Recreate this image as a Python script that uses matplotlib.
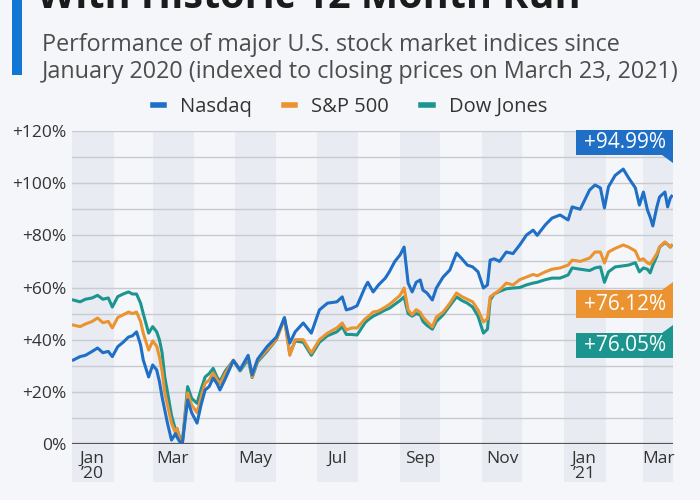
import numpy as np
import matplotlib
matplotlib.use("Agg")
import matplotlib.pyplot as plt
from matplotlib.lines import Line2D
from matplotlib.patches import Rectangle, Polygon

plt.rcParams['font.family'] = ['Open Sans', 'DejaVu Sans']

# days since 2020-01-01
days = [1, 6, 10, 15, 19, 23, 27, 30, 34, 38, 42, 45, 48, 51, 53, 57, 60, 63, 65, 67,
        69, 71, 74, 77, 78, 80, 82, 86, 89, 93, 96, 99, 102, 105, 108, 110, 114, 120, 125, 131,
        134, 138, 145, 152, 158, 162, 166, 172, 178, 184, 190, 197, 201, 204, 208, 212, 218, 220, 224, 228,
        233, 236, 240, 244, 247, 250, 253, 256, 259, 261, 264, 268, 271, 276, 281, 286, 290, 294, 298, 302,
        306, 309, 311, 314, 318, 323, 328, 333, 338, 343, 346, 352, 357, 363, 369, 372, 378, 385, 389, 393,
        396, 399, 404, 410, 414, 419, 422, 425, 428, 430, 432, 435, 437, 441, 443, 445, 446]

nasdaq = [32.2, 33.5, 34.0, 35.5, 36.8, 35.0, 35.5, 33.5, 37.3, 39.0, 41.0, 41.5, 43.0, 38.0, 32.2, 25.7, 30.3, 28.4, 24.0, 18.0,
          13.0, 8.0, 1.5, 4.0, 2.7, 1.0, 0.0, 16.9, 12.0, 8.0, 15.0, 20.7, 22.0, 25.3, 23.0, 20.7, 25.0, 32.0, 28.5, 34.0,
          26.5, 32.5, 37.3, 41.0, 48.3, 38.7, 43.0, 46.4, 42.5, 51.4, 54.0, 54.5, 56.4, 51.4, 52.0, 53.0, 60.2, 62.0, 58.3, 61.0,
          63.6, 66.0, 69.9, 72.5, 75.5, 61.7, 58.3, 62.0, 62.9, 59.0, 57.9, 55.2, 59.8, 64.0, 66.7, 73.2, 71.0, 68.6, 67.9, 66.0,
          59.8, 61.0, 70.5, 71.0, 70.0, 73.6, 73.0, 76.3, 80.1, 82.0, 80.0, 84.0, 86.6, 87.8, 85.9, 90.9, 90.0, 97.4, 99.3, 98.2,
          90.5, 98.6, 103.0, 105.4, 102.0, 98.2, 91.6, 96.6, 89.7, 87.0, 83.6, 90.9, 94.7, 96.6, 90.9, 94.3, 94.99]

sp500 = [45.6, 45.0, 46.0, 47.0, 48.3, 46.5, 47.0, 44.5, 48.5, 49.5, 50.6, 50.0, 50.6, 47.0, 42.5, 36.0, 39.5, 37.5, 33.4, 28.0,
         19.6, 15.0, 8.0, 4.2, 6.0, 2.0, 0.0, 19.6, 15.0, 12.0, 18.0, 23.3, 24.5, 27.2, 24.5, 23.0, 27.0, 32.2, 28.4, 33.4,
         25.7, 32.0, 36.0, 40.0, 48.0, 34.0, 40.0, 40.0, 34.9, 40.0, 42.5, 44.5, 46.4, 43.7, 44.5, 44.5, 48.0, 48.7, 50.6, 51.0,
         52.5, 53.5, 55.2, 57.0, 59.8, 51.4, 49.5, 51.5, 50.5, 48.7, 47.0, 44.9, 48.7, 50.6, 53.9, 57.9, 56.5, 55.5, 54.5, 51.4,
         46.8, 48.0, 56.4, 57.5, 59.0, 61.7, 61.0, 63.0, 64.0, 65.0, 64.5, 66.0, 67.0, 67.5, 68.6, 70.5, 70.0, 71.3, 73.6, 73.6,
         69.4, 73.6, 75.0, 76.3, 75.5, 74.0, 70.5, 71.0, 69.4, 69.0, 70.5, 73.0, 75.5, 77.5, 76.5, 75.5, 76.12]

dow = [55.2, 54.5, 55.5, 56.0, 57.0, 55.5, 56.0, 52.5, 56.5, 57.5, 58.3, 57.5, 57.5, 54.0, 50.0, 42.5, 45.0, 43.0, 40.0, 35.0,
       25.7, 20.0, 11.0, 5.4, 6.0, 2.7, 0.0, 22.0, 17.5, 15.6, 21.0, 25.7, 27.0, 29.0, 25.5, 24.0, 28.0, 32.0, 28.0, 32.5,
       25.5, 31.5, 35.5, 40.0, 48.5, 34.5, 39.5, 39.0, 34.0, 39.0, 41.5, 43.0, 45.0, 42.0, 42.0, 41.8, 46.5, 47.5, 49.0, 50.0,
       51.4, 52.0, 53.5, 55.0, 56.4, 50.0, 49.0, 50.0, 49.5, 47.0, 45.5, 44.0, 47.0, 49.5, 53.0, 56.4, 55.0, 54.0, 52.5, 49.0,
       42.5, 44.0, 55.2, 57.5, 58.5, 59.5, 59.8, 60.0, 61.0, 61.7, 62.0, 63.0, 63.6, 63.6, 64.8, 67.5, 67.0, 66.5, 67.5, 67.9,
       62.0, 66.0, 67.9, 68.3, 68.6, 69.5, 66.0, 67.5, 67.0, 65.6, 68.5, 72.0, 75.5, 77.2, 76.5, 75.5, 76.05]

series_names = ['Nasdaq', 'S&P 500', 'Dow Jones']
series_colors = ['#1f6fc6', '#ea9330', '#1c958f']
end_labels = ['+94.99%', '+76.12%', '+76.05%']

month_labels = ['Jan\n’20', 'Mar', 'May', 'Jul', 'Sep', 'Nov', 'Jan\n’21', 'Mar']

bg = '#f4f6f9'
band = '#e8ecf2'

start = np.datetime64('2020-01-01')
dates = start + np.array(days).astype('timedelta64[D]')
x_end = np.datetime64('2021-03-23')

fig = plt.figure(figsize=(7, 5), dpi=100, facecolor=bg)
ax = fig.add_axes([72/700, 1-444/500, 601/700, 313/500], facecolor=bg)

# shaded months (every other month) + month labels
band_starts = np.arange('2020-01', '2021-04', 2, dtype='datetime64[M]')
for lab, m in zip(month_labels, band_starts):
    s = m.astype('datetime64[D]')
    e = min((m + 1).astype('datetime64[D]'), x_end)
    ax.axvspan(s, e, ymin=-0.122, ymax=1, color=band, lw=0, zorder=0, clip_on=False)
    mid = s + (e - s) / 2
    ax.text(mid, -2.6, lab, ha='center', va='top', fontsize=12.5, color='#333333',
            linespacing=0.9, clip_on=False)

for v in range(10, 121, 10):
    ax.axhline(v, color='#c7cacf', lw=1, zorder=1)
ax.axhline(0, color='#555555', lw=1.6, zorder=5)

for vals, c in zip([dow, sp500, nasdaq], series_colors[::-1]):
    ax.plot(dates, vals, color=c, lw=2.2, zorder=4, solid_joinstyle='round')

ax.set_xlim(start, x_end)
ax.set_ylim(0, 120)
ax.set_yticks(range(0, 121, 20))
ax.set_yticklabels(['0%'] + ['+%d%%' % v for v in range(20, 121, 20)])
ax.tick_params(axis='y', length=0, labelsize=12.5, labelcolor='#333333', pad=4)
ax.set_xticks([])
for sp in ax.spines.values():
    sp.set_visible(False)

# end value boxes
def day(n):
    return start + np.timedelta64(n, 'D')

boxes = [(110.8, 120.4, 'down'), (48.3, 59.0, 'up'), (33.0, 42.6, 'up')]
for (y0, y1, tri), c, lab in zip(boxes, series_colors, end_labels):
    x0 = matplotlib.dates.date2num(day(375))
    x1 = matplotlib.dates.date2num(x_end)
    ax.add_patch(Rectangle((x0, y0), x1 - x0, y1 - y0, color=c, lw=0, zorder=6, clip_on=False))
    xt = matplotlib.dates.date2num(day(439))
    if tri == 'down':
        pts = [(xt, y0), (x1, y0), (x1, y0 - 3)]
    else:
        pts = [(xt, y1), (x1, y1), (x1, y1 + 3)]
    ax.add_patch(Polygon(pts, closed=True, color=c, lw=0, zorder=6, clip_on=False))
    ax.text((x0 + x1) / 2, (y0 + y1) / 2, lab, ha='center', va='center', color='white',
            fontsize=15, zorder=7, clip_on=False)

# header
fig.patches.append(Rectangle((12/700, 1-75/500), 10/700, 75/500, transform=fig.transFigure,
                             color='#1176d4', lw=0))
fig.text(37/700, 1-8/500, 'With Historic 12 Month Run', fontsize=28.5, fontweight='bold',
         color='#1b1b1b', va='baseline', ha='left')
fig.text(42/700, 1-45/500, 'Performance of major U.S. stock market indices since',
         fontsize=16.8, color='#4d4d4d', va='center', ha='left')
fig.text(42/700, 1-72/500, 'January 2020 (indexed to closing prices on March 23, 2021)',
         fontsize=16.8, color='#4d4d4d', va='center', ha='left')

handles = [Line2D([], [], color=c, lw=4) for c in series_colors]
fig.legend(handles, series_names, loc='center', bbox_to_anchor=(0.5, 1-107/500), ncol=3,
           frameon=False, fontsize=14.5, handlelength=0.55, handletextpad=0.8, columnspacing=1.6,
           labelcolor='#333333')

fig.savefig('out.png', dpi=100, facecolor=bg)
